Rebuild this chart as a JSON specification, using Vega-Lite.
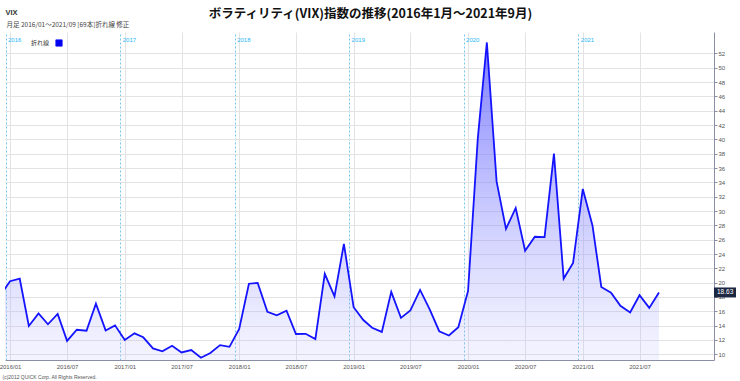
{
  "$schema": "https://vega.github.io/schema/vega-lite/v6.json",
  "width": 709,
  "height": 328,
  "autosize": {"type": "none"},
  "padding": {"left": 5, "top": 32, "right": 26, "bottom": 21},
  "background": "white",
  "config": {"view": {"stroke": null}, "font": "Liberation Sans"},
  "title": {
    "text": "ボラティリティ(VIX)指数の推移(2016年1月～2021年9月)",
    "font": "Noto Sans CJK JP",
    "fontSize": 12.5,
    "fontWeight": "bold",
    "color": "#111111",
    "anchor": "middle",
    "frame": "group",
    "offset": -12,
    "dx": 11
  },
  "datasets": {
    "vix": [
      {"date": "2015-12-01", "value": 18.21},
      {"date": "2016-01-01", "value": 20.20},
      {"date": "2016-02-01", "value": 20.55},
      {"date": "2016-03-01", "value": 13.95},
      {"date": "2016-04-01", "value": 15.70},
      {"date": "2016-05-01", "value": 14.19},
      {"date": "2016-06-01", "value": 15.63},
      {"date": "2016-07-01", "value": 11.87},
      {"date": "2016-08-01", "value": 13.42},
      {"date": "2016-09-01", "value": 13.29},
      {"date": "2016-10-01", "value": 17.06},
      {"date": "2016-11-01", "value": 13.33},
      {"date": "2016-12-01", "value": 14.04},
      {"date": "2017-01-01", "value": 11.99},
      {"date": "2017-02-01", "value": 12.92},
      {"date": "2017-03-01", "value": 12.37},
      {"date": "2017-04-01", "value": 10.82},
      {"date": "2017-05-01", "value": 10.41},
      {"date": "2017-06-01", "value": 11.18},
      {"date": "2017-07-01", "value": 10.26},
      {"date": "2017-08-01", "value": 10.59},
      {"date": "2017-09-01", "value": 9.51},
      {"date": "2017-10-01", "value": 10.18},
      {"date": "2017-11-01", "value": 11.28},
      {"date": "2017-12-01", "value": 11.04},
      {"date": "2018-01-01", "value": 13.54},
      {"date": "2018-02-01", "value": 19.85},
      {"date": "2018-03-01", "value": 19.97},
      {"date": "2018-04-01", "value": 15.93},
      {"date": "2018-05-01", "value": 15.43},
      {"date": "2018-06-01", "value": 16.09},
      {"date": "2018-07-01", "value": 12.83},
      {"date": "2018-08-01", "value": 12.86},
      {"date": "2018-09-01", "value": 12.12},
      {"date": "2018-10-01", "value": 21.23},
      {"date": "2018-11-01", "value": 18.07},
      {"date": "2018-12-01", "value": 25.42},
      {"date": "2019-01-01", "value": 16.57},
      {"date": "2019-02-01", "value": 14.78},
      {"date": "2019-03-01", "value": 13.71},
      {"date": "2019-04-01", "value": 13.12},
      {"date": "2019-05-01", "value": 18.71},
      {"date": "2019-06-01", "value": 15.08},
      {"date": "2019-07-01", "value": 16.12},
      {"date": "2019-08-01", "value": 18.98},
      {"date": "2019-09-01", "value": 16.24},
      {"date": "2019-10-01", "value": 13.22},
      {"date": "2019-11-01", "value": 12.62},
      {"date": "2019-12-01", "value": 13.78},
      {"date": "2020-01-01", "value": 18.84},
      {"date": "2020-02-01", "value": 40.11},
      {"date": "2020-03-01", "value": 53.54},
      {"date": "2020-04-01", "value": 34.15},
      {"date": "2020-05-01", "value": 27.51},
      {"date": "2020-06-01", "value": 30.43},
      {"date": "2020-07-01", "value": 24.46},
      {"date": "2020-08-01", "value": 26.41},
      {"date": "2020-09-01", "value": 26.37},
      {"date": "2020-10-01", "value": 38.02},
      {"date": "2020-11-01", "value": 20.57},
      {"date": "2020-12-01", "value": 22.75},
      {"date": "2021-01-01", "value": 33.09},
      {"date": "2021-02-01", "value": 27.95},
      {"date": "2021-03-01", "value": 19.40},
      {"date": "2021-04-01", "value": 18.61},
      {"date": "2021-05-01", "value": 16.76},
      {"date": "2021-06-01", "value": 15.83},
      {"date": "2021-07-01", "value": 18.24},
      {"date": "2021-08-01", "value": 16.48},
      {"date": "2021-09-01", "value": 18.63}
    ],
    "last": [{"date": "2021-09-01", "value": 18.63, "label": "18.63"}]
  },
  "layer": [
    {
      "data": {"name": "vix"},
      "encoding": {
        "x": {
          "field": "date",
          "type": "temporal",
          "scale": {
            "type": "utc",
            "domain": [
              {"year": 2015, "month": 12, "date": 16, "utc": true},
              {"year": 2022, "month": 2, "date": 23, "hours": 12, "utc": true}
            ]
          },
          "axis": {
            "orient": "bottom",
            "values": [
              {"year": 2016, "month": 1, "date": 1, "utc": true},
              {"year": 2016, "month": 7, "date": 1, "utc": true},
              {"year": 2017, "month": 1, "date": 1, "utc": true},
              {"year": 2017, "month": 7, "date": 1, "utc": true},
              {"year": 2018, "month": 1, "date": 1, "utc": true},
              {"year": 2018, "month": 7, "date": 1, "utc": true},
              {"year": 2019, "month": 1, "date": 1, "utc": true},
              {"year": 2019, "month": 7, "date": 1, "utc": true},
              {"year": 2020, "month": 1, "date": 1, "utc": true},
              {"year": 2020, "month": 7, "date": 1, "utc": true},
              {"year": 2021, "month": 1, "date": 1, "utc": true},
              {"year": 2021, "month": 7, "date": 1, "utc": true}
            ],
            "labelExpr": "utcFormat(datum.value, '%Y/%m')",
            "labelFont": "Liberation Sans",
            "labelFontSize": 6,
            "labelColor": "#555555",
            "labelPadding": 3,
            "tickSize": 0,
            "ticks": false,
            "domainColor": "#8a8fa6",
            "domainWidth": 1,
            "grid": true,
            "gridColor": "#e3e3e3",
            "labelFlush": false,
            "labelOverlap": false,
            "title": "(c)2012 QUICK Corp. All Rights Reserved.",
            "titleFont": "Liberation Sans",
            "titleFontSize": 5,
            "titleFontWeight": "normal",
            "titleColor": "#555555",
            "titleX": -3,
            "titleY": 16,
            "titleAlign": "left",
            "titleAnchor": "start",
            "titleBaseline": "middle"
          }
        },
        "y": {
          "field": "value",
          "type": "quantitative",
          "scale": {"domain": [9.2, 55], "nice": false, "zero": false},
          "axis": {
            "orient": "right",
            "values": [10, 12, 14, 16, 18, 20, 22, 24, 26, 28, 30, 32, 34, 36, 38, 40, 42, 44, 46, 48, 50, 52],
            "labelFont": "Liberation Sans",
            "labelFontSize": 6,
            "labelColor": "#555555",
            "labelPadding": 1,
            "tickSize": 3,
            "tickColor": "#8a8fa6",
            "domainColor": "#8a8fa6",
            "grid": true,
            "gridColor": "#e3e3e3",
            "title": null
          }
        }
      },
      "layer": [
        {
          "mark": {
            "type": "area",
            "clip": true,
            "fill": {
              "gradient": "linear",
              "x1": 0, "y1": 0, "x2": 0, "y2": 1,
              "stops": [
                {"offset": 0, "color": "rgba(80,80,255,0.75)"},
                {"offset": 1, "color": "rgba(180,180,255,0.15)"}
              ]
            }
          },
          "encoding": {"y2": {"datum": 9.2}}
        },
        {
          "mark": {"type": "line", "clip": true, "strokeWidth": 1.8},
          "encoding": {
            "color": {
              "datum": "折れ線",
              "scale": {"range": ["#1414ff"]},
              "legend": {
                "orient": "none",
                "legendX": 26,
                "legendY": 6,
                "title": "折れ線",
                "titleOrient": "left",
                "titleFont": "Noto Sans CJK JP",
                "titleFontSize": 6,
                "titleFontWeight": "normal",
                "titleColor": "#333333",
                "titlePadding": 4,
                "titleBaseline": "middle",
                "labelExpr": "''",
                "symbolType": "square",
                "symbolSize": 40,
                "symbolFillColor": "#0000ee",
                "symbolStrokeColor": "#000066",
                "symbolStrokeWidth": 0.8
              }
            }
          }
        }
      ]
    },
    {
      "mark": {"type": "rule", "strokeDash": [3, 3], "color": "#808080", "strokeWidth": 1},
      "encoding": {"y": {"datum": 18.63, "axis": null}}
    },
    {
      "data": {"name": "last"},
      "encoding": {
        "x": {
          "field": "date",
          "type": "temporal",
          "scale": {"type": "utc"},
          "axis": {
            "orient": "top",
            "values": [
              {"year": 2016, "month": 1, "date": 1, "utc": true},
              {"year": 2017, "month": 1, "date": 1, "utc": true},
              {"year": 2018, "month": 1, "date": 1, "utc": true},
              {"year": 2019, "month": 1, "date": 1, "utc": true},
              {"year": 2020, "month": 1, "date": 1, "utc": true},
              {"year": 2021, "month": 1, "date": 1, "utc": true}
            ],
            "labelExpr": "utcFormat(datum.value, '%Y')",
            "tickOffset": -4.5,
            "labelOffset": 2,
            "labelAlign": "left",
            "labelBaseline": "middle",
            "labelPadding": -7,
            "tickSize": 0,
            "ticks": false,
            "domain": false,
            "labelFont": "Liberation Sans",
            "labelFontSize": 6,
            "labelColor": "#29b6f6",
            "labelFlush": false,
            "labelOverlap": false,
            "grid": true,
            "gridColor": "#74c6ee",
            "gridDash": [2, 2],
            "gridWidth": 1,
            "title": "月足 2016/01～2021/09 [69本]折れ線 修正",
            "titleFont": "Noto Sans CJK JP",
            "titleFontSize": 6.5,
            "titleFontWeight": "normal",
            "titleColor": "#444444",
            "titleX": 1,
            "titleY": -8,
            "titleAlign": "left",
            "titleAnchor": "start",
            "titleBaseline": "middle"
          }
        },
        "y": {
          "field": "value",
          "type": "quantitative",
          "axis": {
            "orient": "left",
            "labels": false,
            "ticks": false,
            "domain": false,
            "grid": false,
            "title": "VIX",
            "titleFont": "Liberation Sans",
            "titleFontSize": 7.5,
            "titleFontWeight": "bold",
            "titleColor": "#333333",
            "titleAngle": 0,
            "titleX": 0,
            "titleY": -20,
            "titleAlign": "left",
            "titleAnchor": "start",
            "titleBaseline": "middle"
          }
        }
      },
      "layer": [
        {
          "mark": {
            "type": "point",
            "shape": "M-1,-0.4545H1V0.4545H-1Z",
            "size": 484,
            "filled": true,
            "color": "#1c2742",
            "opacity": 1,
            "xOffset": 66,
            "clip": false
          }
        },
        {
          "mark": {
            "type": "text",
            "color": "white",
            "font": "Liberation Sans",
            "fontSize": 6.5,
            "align": "left",
            "baseline": "middle",
            "dx": 58
          },
          "encoding": {"text": {"field": "label"}}
        }
      ]
    }
  ],
  "resolve": {"axis": {"x": "independent", "y": "independent"}}
}
